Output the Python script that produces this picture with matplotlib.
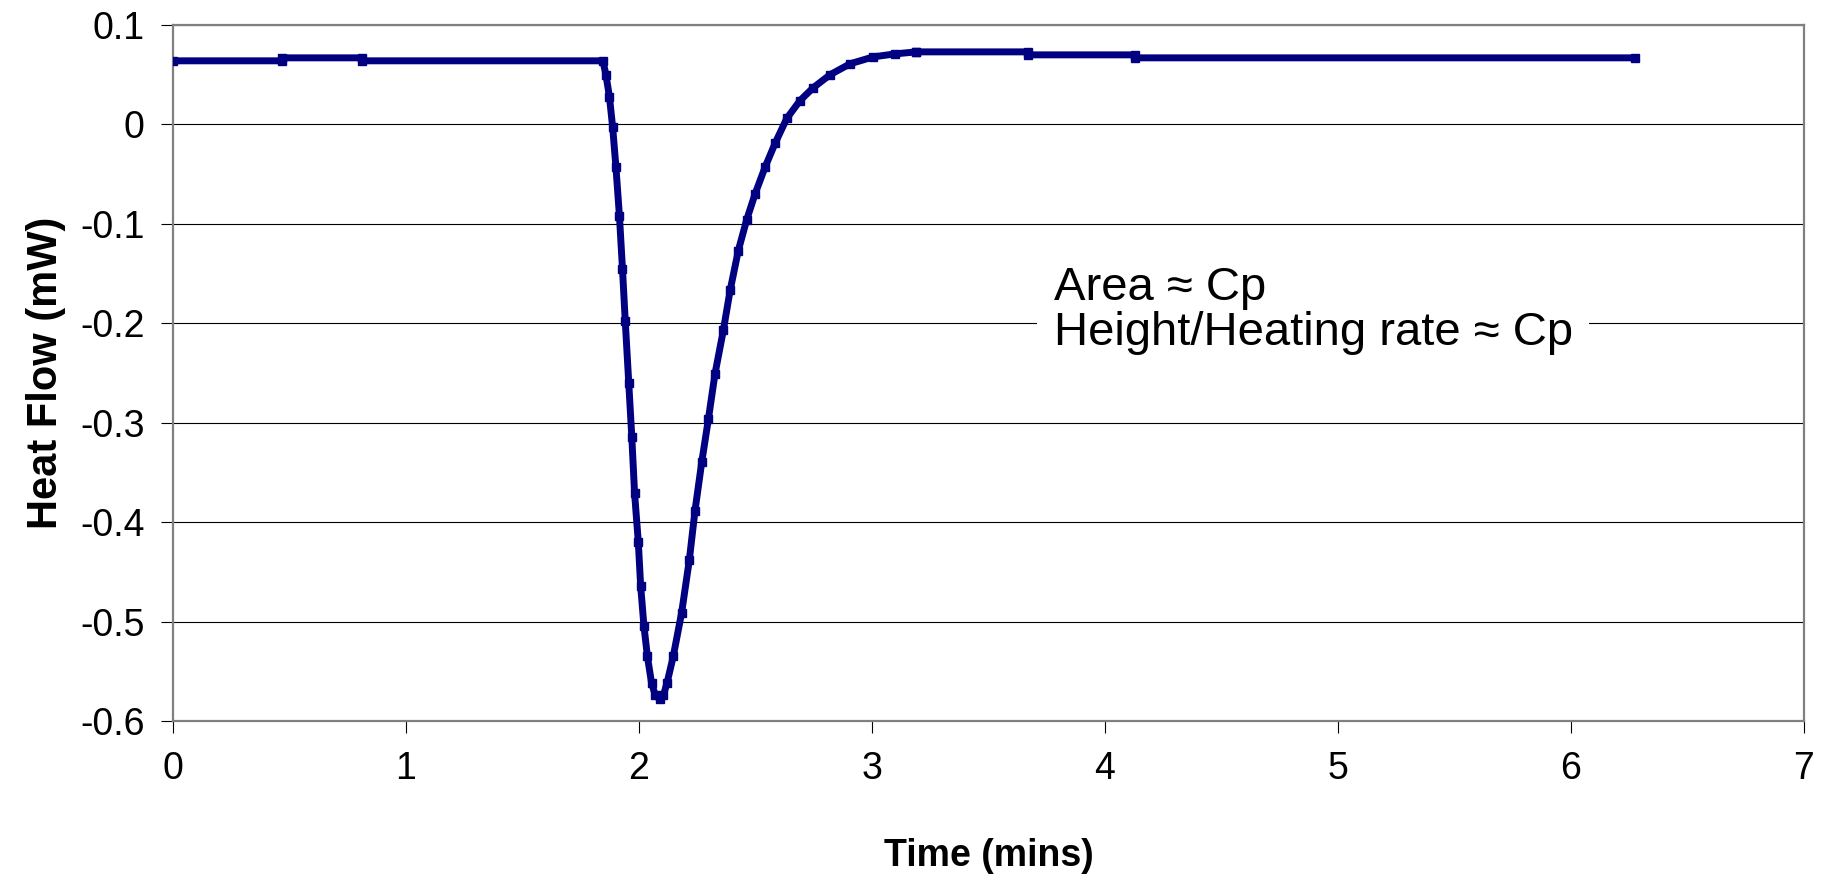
import matplotlib.pyplot as plt

plt.rcParams['font.family'] = ['Liberation Sans', 'DejaVu Sans']

# heat flow trace (time in mins, heat flow in mW)
time = [0.000, 0.466, 0.466, 0.810, 0.810, 1.845, 1.858, 1.873, 1.887, 1.901,
        1.916, 1.929, 1.941, 1.956, 1.969, 1.981, 1.997, 2.007, 2.021, 2.036,
        2.054, 2.070, 2.088, 2.105, 2.120, 2.147, 2.183, 2.216, 2.240, 2.269,
        2.298, 2.326, 2.362, 2.391, 2.426, 2.462, 2.498, 2.541, 2.584, 2.634,
        2.691, 2.748, 2.820, 2.906, 3.006, 3.100, 3.190, 3.190, 3.670, 3.670,
        4.130, 4.130, 6.275]
heat_flow = [0.064, 0.064, 0.067, 0.067, 0.064, 0.064, 0.050, 0.028, -0.003, -0.043,
             -0.092, -0.145, -0.198, -0.260, -0.314, -0.371, -0.420, -0.464, -0.504, -0.535,
             -0.562, -0.574, -0.578, -0.574, -0.562, -0.535, -0.491, -0.438, -0.389, -0.340,
             -0.296, -0.251, -0.207, -0.167, -0.127, -0.096, -0.070, -0.043, -0.019, 0.006,
             0.024, 0.037, 0.050, 0.061, 0.068, 0.071, 0.073, 0.073, 0.073, 0.070,
             0.070, 0.067, 0.067]

x_ticks = [0, 1, 2, 3, 4, 5, 6, 7]
y_ticks = [-0.6, -0.5, -0.4, -0.3, -0.2, -0.1, 0, 0.1]
y_labels = ["-0.6", "-0.5", "-0.4", "-0.3", "-0.2", "-0.1", "0", "0.1"]

fig = plt.figure(figsize=(18.27, 8.75), dpi=100)
ax = fig.add_axes([0.0947, 0.176, 0.8927, 0.7954])

ax.plot(time, heat_flow, color="#000080", lw=5, marker="s", ms=5.5,
        solid_joinstyle="miter", zorder=3)

ax.set_xlim(0, 7)
ax.set_ylim(-0.6, 0.1)
ax.set_xticks(x_ticks)
ax.set_yticks(y_ticks)
ax.set_yticklabels(y_labels)
ax.yaxis.grid(True, color="black", lw=0.8)
ax.set_axisbelow(True)

for s in ax.spines.values():
    s.set_color("#808080")
    s.set_linewidth(1.6)

ax.tick_params(axis="both", direction="out", length=8.5, width=0.8,
               color="black", labelsize=27)
ax.tick_params(axis="x", pad=13)
ax.tick_params(axis="y", pad=12)

ax.set_xlabel("Time (mins)", fontsize=27, fontweight="bold", labelpad=37)
ax.set_ylabel("Heat Flow (mW)", fontsize=30, fontweight="bold", labelpad=10)

ax.text(3.78, -0.187, "Area \u2248 Cp\nHeight/Heating rate \u2248 Cp",
        fontsize=34, va="center", ha="left", linespacing=1.05,
        bbox=dict(facecolor="white", edgecolor="none", pad=12), zorder=4)

fig.savefig("out.png", dpi=100)
